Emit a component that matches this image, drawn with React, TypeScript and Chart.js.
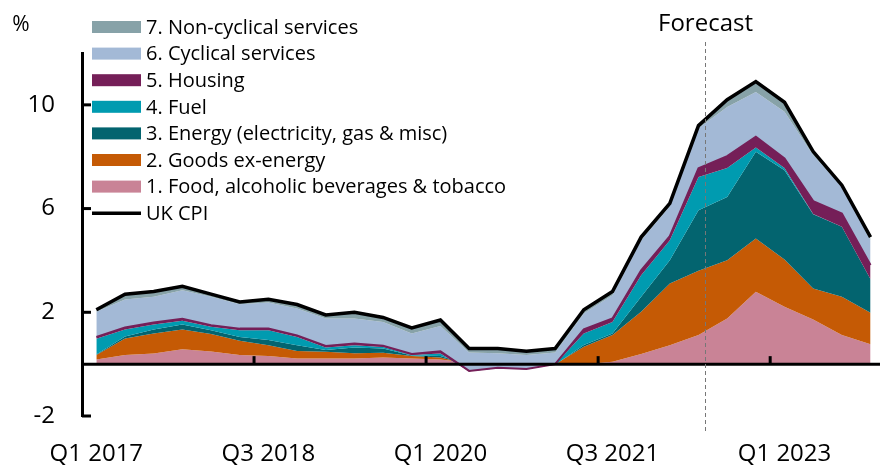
import React, { useEffect, useRef } from 'react';
import { Chart, registerables } from 'chart.js';
Chart.register(...registerables);

const quarters = [
  'Q1 2017','Q2 2017','Q3 2017','Q4 2017',
  'Q1 2018','Q2 2018','Q3 2018','Q4 2018',
  'Q1 2019','Q2 2019','Q3 2019','Q4 2019',
  'Q1 2020','Q2 2020','Q3 2020','Q4 2020',
  'Q1 2021','Q2 2021','Q3 2021','Q4 2021',
  'Q1 2022','Q2 2022','Q3 2022','Q4 2022',
  'Q1 2023','Q2 2023','Q3 2023','Q4 2023',
];
const tickLabelIndices = [0, 6, 12, 18, 24];
const yTickValues = [-2, 2, 6, 10];

const food =     [0.18,0.35,0.41,0.57,0.49,0.35,0.31,0.22,0.22,0.22,0.26,0.22,0.18,0.05,0.05,-0.02,-0.02,0.00,0.09,0.39,0.73,1.12,1.76,2.79,2.21,1.72,1.12,0.77];
const goods =    [0.17,0.64,0.77,0.77,0.67,0.55,0.42,0.29,0.26,0.20,0.18,0.09,0.08,-0.05,-0.02,-0.05,0.02,0.67,1.03,1.63,2.38,2.48,2.25,2.06,1.83,1.20,1.48,1.21];
const energy =   [0.02,0.08,0.16,0.19,0.15,0.15,0.20,0.22,0.07,0.22,0.16,0.02,0.05,-0.02,-0.05,-0.05,-0.02,0.07,0.06,0.58,0.90,2.34,2.44,3.34,3.44,2.86,2.70,1.29];
const fuel =     [0.61,0.27,0.19,0.14,0.13,0.26,0.38,0.32,0.09,0.09,0.06,0.02,0.10,-0.25,-0.14,-0.08,0.02,0.44,0.45,0.83,0.77,1.28,1.11,0.17,0.08,0.01,0.00,0.00];
const housing =  [0.07,0.07,0.08,0.08,0.06,0.06,0.06,0.06,0.06,0.07,0.05,0.04,0.09,0.01,0.02,0.01,0.00,0.16,0.13,0.19,0.16,0.33,0.46,0.41,0.37,0.50,0.51,0.55];
const cyclical = [0.97,1.08,0.99,1.10,1.10,0.94,1.01,1.04,1.06,0.96,0.92,0.79,0.97,0.71,0.56,0.54,0.45,0.61,0.90,1.16,1.15,1.55,1.90,1.73,1.80,1.77,1.03,0.96];
const nonCyclical = [0.08,0.21,0.20,0.15,0.10,0.09,0.12,0.15,0.14,0.24,0.17,0.22,0.23,0.15,0.18,0.15,0.15,0.15,0.14,0.12,0.11,0.10,0.24,0.35,0.32,0.17,0.10,0.08];
const ukCpi =    [2.1,2.7,2.8,3.0,2.7,2.4,2.5,2.3,1.9,2.0,1.8,1.4,1.7,0.6,0.6,0.5,0.6,2.1,2.8,4.9,6.2,9.2,10.2,10.9,10.1,8.2,6.9,4.9];

const forecastX = 21.23;

const FONT = '"Open Sans", "Noto Sans", sans-serif';

const series = [
  { label: '1. Food, alcoholic beverages & tobacco', data: food, color: '#C98396' },
  { label: '2. Goods ex-energy', data: goods, color: '#C55A05' },
  { label: '3. Energy (electricity, gas & misc)', data: energy, color: '#03646F' },
  { label: '4. Fuel', data: fuel, color: '#009BB0' },
  { label: '5. Housing', data: housing, color: '#751F58' },
  { label: '6. Cyclical services', data: cyclical, color: '#A3B9D6' },
  { label: '7. Non-cyclical services', data: nonCyclical, color: '#87A2A8' },
];

const overlayPlugin = {
  id: 'overlay',
  afterDatasetsDraw(chart: any) {
    const { ctx, chartArea, scales } = chart;
    const xs = scales.x;
    const ys = scales.y;
    const y0 = ys.getPixelForValue(0);
    ctx.save();
    ctx.strokeStyle = '#000';
    ctx.lineWidth = 3;
    ctx.beginPath();
    ctx.moveTo(chartArea.left, y0);
    ctx.lineTo(chartArea.right, y0);
    ctx.stroke();
    tickLabelIndices.slice(1).forEach((i) => {
      const px = xs.getPixelForValue(i - 0.5);
      ctx.beginPath();
      ctx.moveTo(px, y0);
      ctx.lineTo(px, y0 - 8);
      ctx.stroke();
    });
    yTickValues.forEach((v) => {
      const py = ys.getPixelForValue(v);
      ctx.beginPath();
      ctx.moveTo(chartArea.left, py);
      ctx.lineTo(chartArea.left + 9, py);
      ctx.stroke();
    });
    const fx = Math.round(xs.getPixelForValue(forecastX)) + 0.5;
    ctx.strokeStyle = '#777';
    ctx.lineWidth = 1;
    ctx.setLineDash([4, 3]);
    ctx.beginPath();
    ctx.moveTo(fx, 42);
    ctx.lineTo(fx, 434);
    ctx.stroke();
    ctx.setLineDash([]);
    ctx.fillStyle = '#000';
    ctx.font = `24px ${FONT}`;
    ctx.textAlign = 'center';
    ctx.textBaseline = 'middle';
    ctx.fillText('Forecast', fx, 24);
    ctx.font = `21px ${FONT}`;
    ctx.fillText('%', 21, 25);
    const rowY0 = 27;
    const rowGap = 26.6;
    ctx.font = `20px ${FONT}`;
    ctx.textAlign = 'left';
    const items = [...series].reverse();
    items.forEach((s, k) => {
      const cy = rowY0 + k * rowGap;
      ctx.fillStyle = s.color;
      ctx.fillRect(92, cy - 6, 49, 12);
      ctx.fillStyle = '#000';
      ctx.fillText(s.label, 146, cy + 1);
    });
    const cyCpi = rowY0 + items.length * rowGap;
    ctx.strokeStyle = '#000';
    ctx.lineWidth = 3.5;
    ctx.beginPath();
    ctx.moveTo(92, cyCpi);
    ctx.lineTo(141, cyCpi);
    ctx.stroke();
    ctx.fillText('UK CPI', 146, cyCpi + 1);
    ctx.restore();
  },
};

export default function App() {
  const ref = useRef<HTMLCanvasElement | null>(null);
  useEffect(() => {
    document.body.style.margin = '0';
    const canvas = ref.current!;
    // cumulative stacking (Excel-style: each area drawn over the one below)
    const running = new Array(quarters.length).fill(0);
    const datasets: any[] = series.map((s, i) => {
      const pts = s.data.map((v, q) => {
        running[q] += v;
        return { x: q, y: running[q] };
      });
      const isHousing = s.label.startsWith('5.');
      return {
        label: s.label,
        data: pts,
        backgroundColor: s.color,
        borderColor: s.color,
        borderWidth: isHousing ? 2 : 0,
        fill: i === 0 ? 'origin' : '-1',
        pointRadius: 0,
        tension: 0,
        order: series.length - i,
      };
    });
    datasets.push({
      label: 'UK CPI',
      data: ukCpi.map((v, q) => ({ x: q, y: v })),
      borderColor: '#000',
      backgroundColor: '#000',
      borderWidth: 3.5,
      fill: false,
      pointRadius: 0,
      tension: 0,
      order: 0,
    });
    const chart = new Chart(canvas, {
      type: 'line',
      data: { datasets },
      plugins: [overlayPlugin],
      options: {
        animation: false,
        responsive: false,
        devicePixelRatio: 1,
        layout: { padding: { top: 53, right: 0, left: 0, bottom: 0 } },
        plugins: {
          legend: { display: false },
          tooltip: { enabled: false },
          title: { display: false },
          filler: { drawTime: 'beforeDatasetsDraw' },
        },
        scales: {
          x: {
            type: 'linear',
            min: -0.5,
            max: 27.33,
            grid: { display: false, drawTicks: false },
            border: { display: false },
            afterBuildTicks: (scale: any) => {
              scale.ticks = tickLabelIndices.map((v) => ({ value: v }));
            },
            afterFit: (scale: any) => { scale.height = 49; },
            ticks: {
              autoSkip: false,
              maxRotation: 0,
              color: '#000',
              padding: 24,
              font: { family: FONT, size: 24 },
              callback: (v: any) => quarters[v as number] ?? '',
            },
          },
          y: {
            type: 'linear',
            min: -2,
            max: 12,
            grid: { display: false, drawTicks: false },
            border: { display: true, color: '#000', width: 3 },
            afterBuildTicks: (scale: any) => {
              scale.ticks = yTickValues.map((v) => ({ value: v }));
            },
            afterFit: (scale: any) => { scale.width = 82; },
            ticks: {
              color: '#000',
              padding: 27,
              font: { family: FONT, size: 24 },
            },
          },
        },
      } as any,
    });
    return () => chart.destroy();
  }, []);
  return (
    <div style={{ width: 880, height: 465 }}>
      <canvas ref={ref} width={880} height={465} style={{ display: 'block' }} />
    </div>
  );
}
